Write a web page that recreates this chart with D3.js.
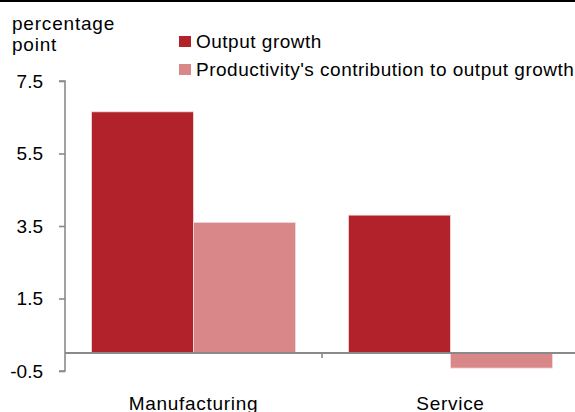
<!DOCTYPE html>
<html><head><meta charset="utf-8">
<script src="https://cdn.jsdelivr.net/npm/d3@7"></script>
<style>body{margin:0;background:#fff}svg{display:block;font-family:"Liberation Sans",Arial,sans-serif}</style>
</head><body><svg id="c" width="575" height="412"></svg>
<script>
const categories = ["Manufacturing", "Service"];
const seriesNames = ["Output growth", "Productivity's contribution to output growth"];
const outputGrowth = [6.65, 3.8];
const productivityContribution = [3.6, -0.42];
const yTicks = [-0.5, 1.5, 3.5, 5.5, 7.5];
const yLabel = ["percentage", "point"];
const colors = ["#B2222A", "#D98789"];

const svg = d3.select("#c");
const W = 575, H = 412;
svg.append("rect").attr("x",0).attr("y",0).attr("width",W).attr("height",2).attr("fill","#000");

const y = d3.scaleLinear().domain([-0.5, 7.5]).range([371, 81]);
const x0 = d3.scaleBand().domain(categories).range([65, 579]).paddingInner(0.206).paddingOuter(0.103);
const x1 = d3.scaleBand().domain(seriesNames).range([0, x0.bandwidth()]);
const series = [outputGrowth, productivityContribution];

// bars
const g = svg.append("g");
categories.forEach((c, i) => {
  series.forEach((s, j) => {
    const v = s[i];
    g.append("rect")
      .attr("x", x0(c) + x1(seriesNames[j]))
      .attr("y", y(Math.max(0, v)))
      .attr("width", x1.bandwidth())
      .attr("height", Math.abs(y(v) - y(0)))
      .attr("fill", colors[j])
      .attr("stroke", "#f3dcdc").attr("stroke-width", 0.8);
  });
});

// y axis
const yAxis = d3.axisLeft(y).tickValues(yTicks).tickFormat(d => d.toFixed(1)).tickSize(6).tickPadding(16);
const ya = svg.append("g").attr("transform","translate(65,0)").call(yAxis);
ya.select(".domain").attr("stroke","#8a8a8a").attr("stroke-width",1.6).attr("d", `M-6,${y(7.5)}H0V${y(-0.5)}H-6`);
ya.selectAll(".tick line").attr("stroke","#8a8a8a").attr("stroke-width",1.6);
ya.selectAll(".tick text").attr("font-size",19).attr("fill","#000").attr("font-family","Liberation Sans, Arial, sans-serif");

// zero line with category ticks
svg.append("line").attr("x1",65).attr("x2",W).attr("y1",y(0)).attr("y2",y(0)).attr("stroke","#8a8a8a").attr("stroke-width",2);
const step = x0.step();
[x0(categories[1]) - step*0.206/2 ].forEach(xx=>{
  svg.append("line").attr("x1",xx).attr("x2",xx).attr("y1",y(0)).attr("y2",y(0)+5).attr("stroke","#8a8a8a").attr("stroke-width",1.6);
});

// category labels
categories.forEach(c=>{
  svg.append("text").attr("x", x0(c)+x0.bandwidth()/2).attr("y", 410).attr("text-anchor","middle")
    .attr("font-size",19).attr("letter-spacing",0.7).attr("fill","#000").text(c);
});

// y label
yLabel.forEach((t,i)=>{
  svg.append("text").attr("x",12).attr("y",30+i*21).attr("font-size",19).attr("letter-spacing",0.8).attr("fill","#000").text(t);
});

// legend
seriesNames.forEach((n,i)=>{
  const ly = 36 + i*28;
  svg.append("rect").attr("x",179).attr("y",ly).attr("width",12).attr("height",11).attr("fill",colors[i]);
  svg.append("text").attr("x",196).attr("y",ly+12).attr("font-size",19).attr("letter-spacing",0.5).attr("fill","#000").text(n);
});
</script></body></html>
